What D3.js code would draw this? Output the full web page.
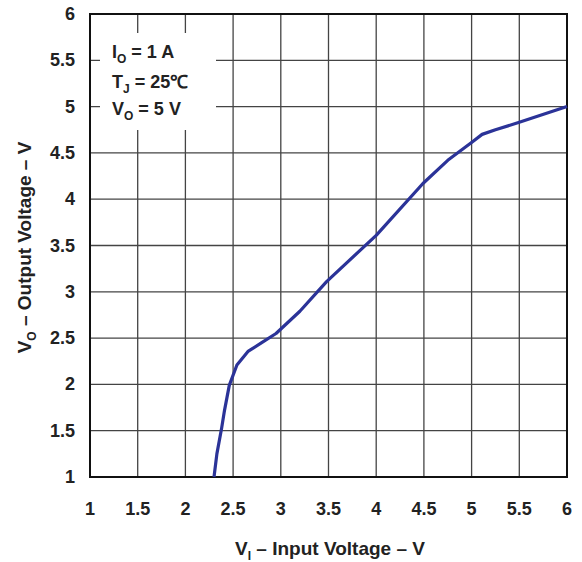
<!DOCTYPE html>
<html>
<head>
<meta charset="utf-8">
<script src="https://cdn.jsdelivr.net/npm/d3@7"></script>
<style>
  body { margin: 0; background: #fff; }
  text { font-family: "Liberation Sans", Arial, sans-serif; font-weight: bold; fill: #222; }
</style>
</head>
<body>
<svg id="chart" width="582" height="562"></svg>
<script>
// Ticks for both axes.
var x_ticks = [1, 1.5, 2, 2.5, 3, 3.5, 4, 4.5, 5, 5.5, 6];
var y_ticks = [1, 1.5, 2, 2.5, 3, 3.5, 4, 4.5, 5, 5.5, 6];

// VI (input) vs VO (output) curve.
var vin  = [2.30, 2.33, 2.38, 2.41, 2.46, 2.54, 2.66, 2.80, 2.95, 3.20, 3.48, 4.00, 4.49, 4.75, 5.01, 5.11, 5.25, 5.50, 6.00];
var vout = [1.00, 1.25, 1.53, 1.72, 1.99, 2.21, 2.36, 2.45, 2.55, 2.79, 3.11, 3.61, 4.17, 4.42, 4.62, 4.70, 4.75, 4.83, 5.00];

var svg = d3.select("#chart");

// plot box
var pl = 90, pr = 567, pt = 14, pb = 477;

var x = d3.scaleLinear().domain([1, 6]).range([pl, pr]);
var y = d3.scaleLinear().domain([1, 6]).range([pb, pt]);

// grid
var grid = svg.append("g");
grid.selectAll(".vx")
  .data(x_ticks.slice(1, -1))
  .enter().append("line")
  .attr("x1", function(d) { return x(d); })
  .attr("x2", function(d) { return x(d); })
  .attr("y1", pt).attr("y2", pb)
  .attr("stroke", "#444").attr("stroke-width", 1.3);

grid.selectAll(".hy")
  .data(y_ticks.slice(1, -1))
  .enter().append("line")
  .attr("x1", pl).attr("x2", pr)
  .attr("y1", function(d) { return y(d); })
  .attr("y2", function(d) { return y(d); })
  .attr("stroke", "#444").attr("stroke-width", 1.3);

// white box behind the conditions text
svg.append("rect")
  .attr("x", 100).attr("y", 33)
  .attr("width", 116).attr("height", 97)
  .attr("fill", "#fff");

// frame
svg.append("rect")
  .attr("x", pl).attr("y", pt)
  .attr("width", pr - pl).attr("height", pb - pt)
  .attr("fill", "none")
  .attr("stroke", "#111").attr("stroke-width", 2);

// curve
var line = d3.line()
  .x(function(d, i) { return x(vin[i]); })
  .y(function(d, i) { return y(vout[i]); });

svg.append("path")
  .datum(vout)
  .attr("d", line)
  .attr("fill", "none")
  .attr("stroke", "#2b3398")
  .attr("stroke-width", 3.2)
  .attr("stroke-linejoin", "round");

// tick labels
svg.append("g").selectAll("text")
  .data(x_ticks)
  .enter().append("text")
  .attr("x", function(d) { return x(d); })
  .attr("y", 515)
  .attr("text-anchor", "middle")
  .style("font-size", "18px")
  .text(function(d) { return d; });

svg.append("g").selectAll("text")
  .data(y_ticks)
  .enter().append("text")
  .attr("x", 75)
  .attr("y", function(d) { return y(d) + 6; })
  .attr("text-anchor", "end")
  .style("font-size", "18px")
  .text(function(d) { return d; });

// axis titles
var xt = svg.append("text")
  .attr("x", 330).attr("y", 555)
  .attr("text-anchor", "middle")
  .style("font-size", "19px");
xt.append("tspan").text("V");
xt.append("tspan").attr("dy", 5).style("font-size", "12px").text("I");
xt.append("tspan").attr("dy", -5).text(" – Input Voltage – V");

var yt = svg.append("text")
  .attr("transform", "translate(31," + ((pt + pb) / 2 + 2) + ") rotate(-90)")
  .attr("text-anchor", "middle")
  .style("font-size", "19px");
yt.append("tspan").text("V");
yt.append("tspan").attr("dy", 5).style("font-size", "12px").text("O");
yt.append("tspan").attr("dy", -5).text(" – Output Voltage – V");

// conditions
var cond = [["I", "O", " = 1 A"], ["T", "J", " = 25\u2103"], ["V", "O", " = 5 V"]];
var cond_y = [58, 88, 115];
cond.forEach(function(c, i) {
  var t = svg.append("text")
    .attr("x", 112).attr("y", cond_y[i])
    .style("font-size", "18px");
  t.append("tspan").text(c[0]);
  t.append("tspan").attr("dy", 5).style("font-size", "12px").text(c[1]);
  t.append("tspan").attr("dy", -5).text(c[2]);
});
</script>
</body>
</html>
